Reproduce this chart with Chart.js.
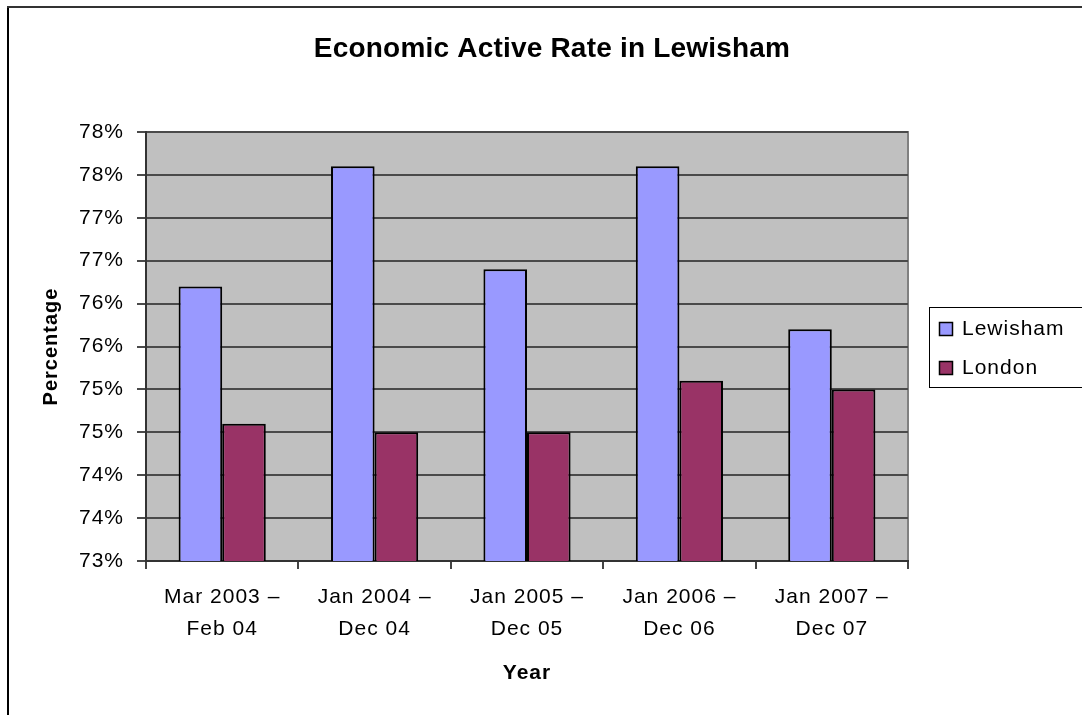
<!DOCTYPE html>
<html>
<head>
<meta charset="utf-8">
<script src="https://cdn.jsdelivr.net/npm/chart.js@4/dist/chart.umd.min.js"></script>
<style>
  body { margin: 0; background: #fff; }
  canvas { display: block; }
</style>
</head>
<body>
<canvas id="rate_chart" width="1082" height="715"></canvas>
<script>
// Data
const periods = [
    ['Mar 2003 \u2013', 'Feb 04'],
    ['Jan 2004 \u2013', 'Dec 04'],
    ['Jan 2005 \u2013', 'Dec 05'],
    ['Jan 2006 \u2013', 'Dec 06'],
    ['Jan 2007 \u2013', 'Dec 07']
];
const lewishamRates = [76.2, 77.6, 76.4, 77.6, 75.7];
const londonRates = [74.6, 74.5, 74.5, 75.1, 75.0];
const yTicks = { min: 73, max: 78, step: 0.5 };

const FONT = "'Liberation Sans', Arial, sans-serif";

// White background, grey plot area, frame, title and legend box
const framePlugin = {
    id: 'frame',
    beforeDraw: function(chart) {
        const ctx = chart.ctx;
        const area = chart.chartArea;
        ctx.letterSpacing = '1px';
        ctx.save();
        ctx.fillStyle = '#fff';
        ctx.fillRect(0, 0, chart.width, chart.height);
        ctx.fillStyle = '#C0C0C0';
        ctx.fillRect(area.left, area.top, area.right - area.left, area.bottom - area.top);
        ctx.strokeStyle = '#808080';
        ctx.lineWidth = 2;
        ctx.strokeRect(area.left, area.top, area.right - area.left, area.bottom - area.top);
        ctx.restore();
    },
    afterDraw: function(chart) {
        const ctx = chart.ctx;
        ctx.save();
        // only the top and left edges of the outer frame are in the picture
        ctx.fillStyle = '#000';
        ctx.fillRect(7, 6, 2, chart.height - 6);
        ctx.fillStyle = '#333';
        ctx.fillRect(7, 6, chart.width - 7, 2);

        // chart title
        ctx.letterSpacing = '0.2px';
        ctx.fillStyle = '#000';
        ctx.font = 'bold 28px ' + FONT;
        ctx.textAlign = 'center';
        ctx.textBaseline = 'middle';
        ctx.fillText('Economic Active Rate in Lewisham', 552, 49);

        // legend box (runs off the right edge)
        ctx.letterSpacing = '1px';
        ctx.strokeStyle = '#000';
        ctx.lineWidth = 1;
        ctx.strokeRect(929.5, 307.5, 170, 80);
        ctx.font = '21px ' + FONT;
        ctx.textAlign = 'left';
        chart.data.datasets.forEach(function(ds, i) {
            const y = 322 + i * 39;
            ctx.fillStyle = ds.backgroundColor;
            ctx.fillRect(939, y, 14, 14);
            ctx.strokeStyle = '#000';
            ctx.lineWidth = 1.5;
            ctx.strokeRect(939.5, y + 0.5, 13, 13);
            ctx.fillStyle = '#000';
            ctx.fillText(ds.label, 962, y + 7);
        });
        ctx.restore();
    }
};

const ctx = document.getElementById('rate_chart').getContext('2d');
new Chart(ctx, {
    type: 'bar',
    data: {
        labels: periods,
        datasets: [{
            label: 'Lewisham',
            data: lewishamRates,
            backgroundColor: '#9999FF',
            borderColor: '#000',
            borderWidth: 2
        }, {
            label: 'London',
            data: londonRates,
            backgroundColor: '#993366',
            borderColor: '#000',
            borderWidth: 2
        }]
    },
    options: {
        responsive: false,
        animation: false,
        devicePixelRatio: 1,
        layout: {
            padding: { top: 132, left: 0, right: 174, bottom: 0 }
        },
        datasets: {
            bar: {
                categoryPercentage: 0.572,
                barPercentage: 1
            }
        },
        plugins: {
            legend: { display: false },
            title: { display: false },
            tooltip: { enabled: false }
        },
        scales: {
            x: {
                afterFit: function(scale) { scale.height = 154; },
                grid: {
                    offset: true,
                    drawOnChartArea: false,
                    drawTicks: true,
                    tickLength: 8,
                    lineWidth: 2,
                    color: '#444'
                },
                border: { color: '#333', width: 2 },
                ticks: {
                    color: '#000',
                    padding: 12,
                    maxRotation: 0,
                    font: { family: FONT, size: 21, lineHeight: 1.52 }
                },
                title: {
                    display: true,
                    text: 'Year',
                    color: '#000',
                    padding: { top: 0, bottom: 29 },
                    font: { family: FONT, size: 21, weight: 'bold', lineHeight: 1.2 }
                }
            },
            y: {
                min: yTicks.min,
                max: yTicks.max,
                afterFit: function(scale) { scale.width = 146; },
                grid: {
                    color: '#4a4a4a',
                    lineWidth: 2,
                    tickLength: 9
                },
                border: { color: '#333', width: 2 },
                ticks: {
                    stepSize: yTicks.step,
                    color: '#000',
                    padding: 13,
                    font: { family: FONT, size: 21 },
                    callback: function(value) {
                        return Math.round(value) + '%';
                    }
                },
                title: {
                    display: true,
                    text: 'Percentage',
                    color: '#000',
                    padding: { top: 39, bottom: 0 },
                    font: { family: FONT, size: 20, weight: 'bold', lineHeight: 1.2 }
                }
            }
        }
    },
    plugins: [framePlugin]
});
</script>
</body>
</html>
